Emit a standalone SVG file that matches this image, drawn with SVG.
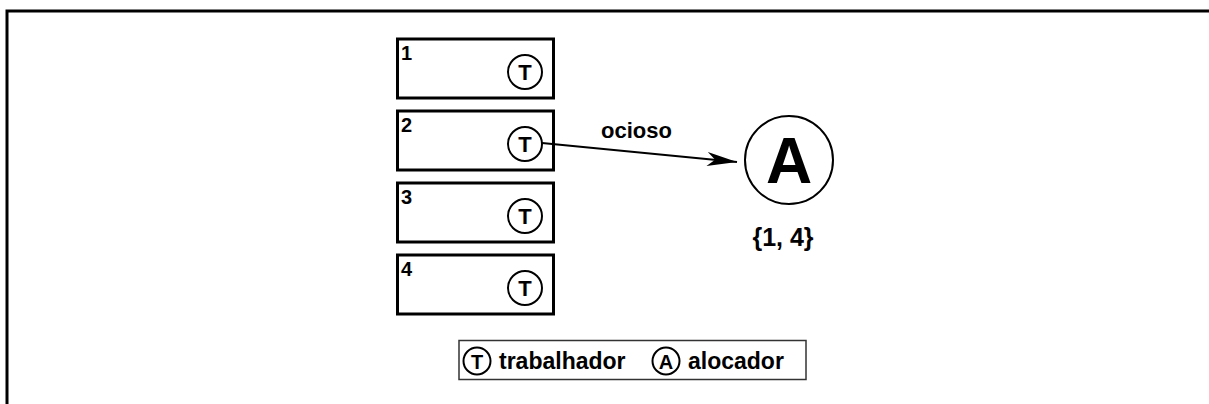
<svg xmlns="http://www.w3.org/2000/svg" width="1209" height="404" viewBox="0 0 1209 404">
<style>
text { font-family: "Liberation Sans", Arial, sans-serif; font-weight: bold; fill: #000; }
.box { fill: #fff; stroke: #000; stroke-width: 3; }
.tc { fill: #fff; stroke: #000; stroke-width: 2; }
.num { font-size: 20px; }
.tl { font-size: 22px; text-anchor: middle; }
.lbl { font-size: 22px; }
.leg { font-size: 23px; }
</style>
<defs>
<marker id="arr" markerUnits="userSpaceOnUse" markerWidth="30" markerHeight="14" viewBox="0 0 30 14" refX="30" refY="7" orient="auto">
<path d="M0,0 L30,7 L0,14 L8,7 z" fill="#000"/>
</marker>
</defs>
<rect width="1209" height="404" fill="#fff"/>
<path d="M7,404 V11 H1209" fill="none" stroke="#000" stroke-width="3"/>
<g id="w1">
<rect class="box" x="397.5" y="39" width="156" height="59"/>
<text class="num" x="401" y="60">1</text>
<circle class="tc" cx="525" cy="72" r="17"/>
<text class="tl" x="525" y="80">T</text>
</g>
<g id="w2">
<rect class="box" x="397.5" y="111" width="156" height="59"/>
<text class="num" x="401" y="132">2</text>
<circle class="tc" cx="525" cy="144" r="17"/>
<text class="tl" x="525" y="152">T</text>
</g>
<g id="w3">
<rect class="box" x="397.5" y="183" width="156" height="59"/>
<text class="num" x="401" y="204">3</text>
<circle class="tc" cx="525" cy="216" r="17"/>
<text class="tl" x="525" y="224">T</text>
</g>
<g id="w4">
<rect class="box" x="397.5" y="255" width="156" height="59"/>
<text class="num" x="401" y="276">4</text>
<circle class="tc" cx="525" cy="288" r="17"/>
<text class="tl" x="525" y="296">T</text>
</g>
<g id="alloc">
<circle class="tc" cx="789" cy="160" r="44"/>
<text x="789" y="183" font-size="64" text-anchor="middle">A</text>
<text x="783" y="246" font-size="25" text-anchor="middle">{1, 4}</text>
</g>
<g id="connectors">
<line x1="542" y1="143" x2="737" y2="162" stroke="#000" stroke-width="2" marker-end="url(#arr)"/>
<text class="lbl" x="601" y="138">ocioso</text>
</g>
<g id="legend">
<rect x="459" y="340.5" width="347" height="39" fill="#fff" stroke="#333" stroke-width="1.5"/>
<circle class="tc" cx="477" cy="361" r="13.5"/>
<text x="477" y="368.5" font-size="20" text-anchor="middle">T</text>
<text class="leg" x="499" y="369">trabalhador</text>
<circle class="tc" cx="666" cy="361" r="13.5"/>
<text x="666" y="368.5" font-size="20" text-anchor="middle">A</text>
<text class="leg" x="688" y="369">alocador</text>
</g>
</svg>
